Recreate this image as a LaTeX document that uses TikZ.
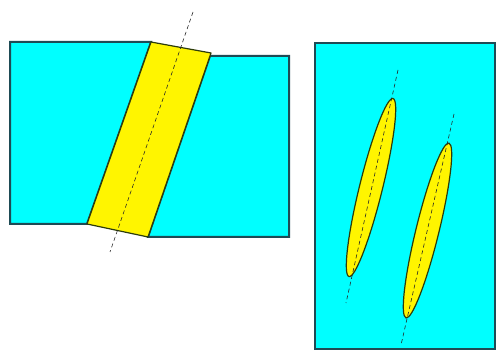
\documentclass[tikz,border=0pt]{standalone}
\usepackage{xcolor}

\definecolor{cyanfond}{RGB}{0,255,255}
\definecolor{jaune}{RGB}{255,245,0}
\definecolor{bordbloc}{RGB}{30,75,85}
\definecolor{bordjaune}{RGB}{45,60,10}

\begin{document}
\begin{tikzpicture}[x=1pt,y=1pt]

    \useasboundingbox (0,0) rectangle (499,356);

    % --- Figure de gauche : deux blocs et la bande ---
    \coordinate (A) at (151,314);   % Bande haut gauche
    \coordinate (B) at (211,303);   % Bande haut droite
    \coordinate (C) at (148,119);   % Bande bas droite
    \coordinate (D) at (87,132);    % Bande bas gauche

    % Blocs cyan
    \draw[line width=2pt, bordbloc, fill=cyanfond] (10,132) -- (10,314) -- (A) -- (D) -- cycle;      % Bloc gauche
    \draw[line width=2pt, bordbloc, fill=cyanfond] (210,300) -- (289,300) -- (289,119) -- (C) -- cycle; % Bloc droit

    % Bande jaune
    \draw[line width=1.2pt, bordjaune, fill=jaune, line join=round] (A) -- (B) -- (C) -- (D) -- cycle;

    % Axe de la bande (en pointillés)
    \coordinate (P) at (193,344);
    \coordinate (Q) at (110,104);
    \draw[line width=0.6pt, dash pattern=on 4pt off 3pt, gray!30!black] (P) -- (Q);

    % --- Figure de droite : le bloc et les deux lentilles ---
    \draw[line width=2pt, bordbloc, fill=cyanfond] (315,7) rectangle (495,313);

    % Lentille 1
    \coordinate (E1) at (371,168.5);  % Centre
    \draw[line width=1.2pt, bordjaune, fill=jaune, rotate around={76.1:(E1)}]
        (E1) ellipse [x radius=91.7, y radius=11.5];
    \draw[line width=0.6pt, dash pattern=on 4pt off 3pt, gray!30!black] (398,286) coordinate (R1) -- (346,53) coordinate (S1);

    % Lentille 2
    \coordinate (E2) at (427.5,125.5); % Centre
    \draw[line width=1.2pt, bordjaune, fill=jaune, rotate around={76.2:(E2)}]
        (E2) ellipse [x radius=90, y radius=11.5];
    \draw[line width=0.6pt, dash pattern=on 4pt off 3pt, gray!30!black] (454,242) coordinate (R2) -- (401,11) coordinate (S2);

\end{tikzpicture}
\end{document}
